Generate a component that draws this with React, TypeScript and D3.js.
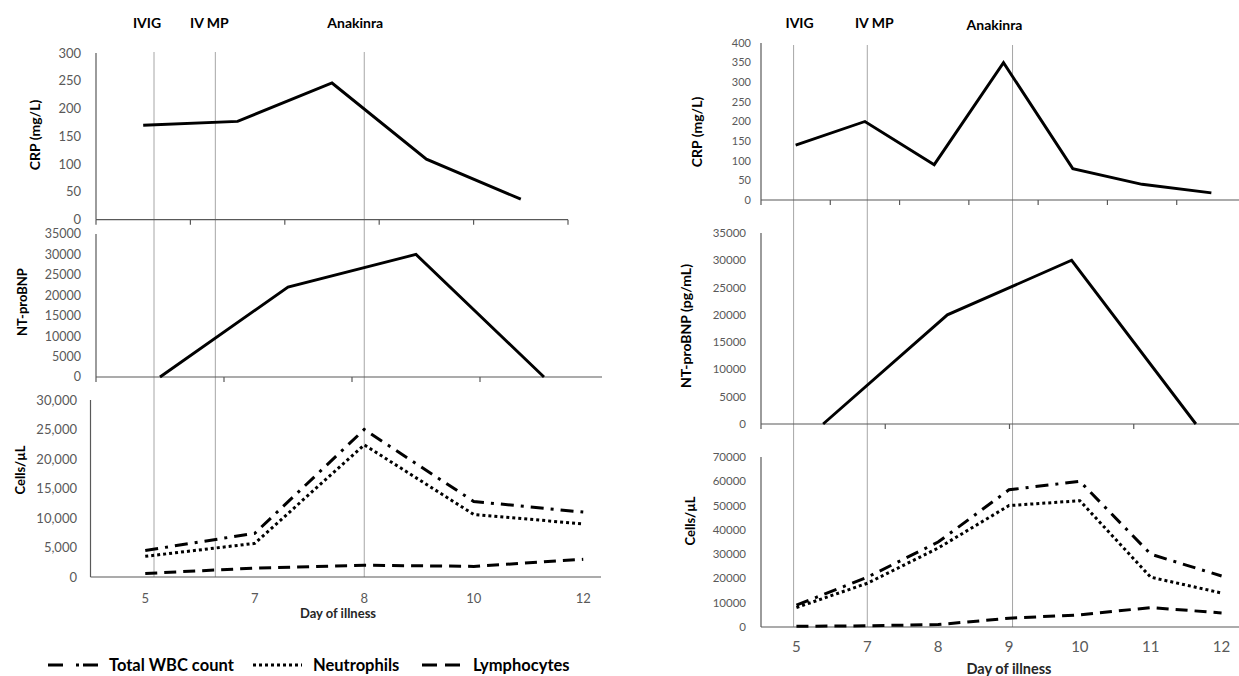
import React from "react";
import * as d3 from "d3";

// ---- left patient ----
const leftDays = ["5", "7", "8", "10", "12"];
const leftCrp = [170, 177, 246, 109, 37];
const leftBnpSlots = ["b1", "b2", "b3", "b4"]; // unlabelled in the figure
const leftBnp = [0, 22000, 30000, 0];
const leftWbc = [4500, 7400, 25000, 12800, 11000];
const leftNeut = [3500, 5700, 22400, 10600, 9000];
const leftLymph = [600, 1500, 2000, 1800, 3000];
// treatment start, in day-index units of the bottom axis
const leftEventIdx = [0.08, 0.64, 2.0];

// ---- right patient ----
const rightDays = ["5", "7", "8", "9", "10", "11", "12"];
const rightCrp = [140, 200, 90, 350, 80, 40, 18];
const rightBnpSlots = ["b1", "b2", "b3", "b4"];
const rightBnp = [0, 20000, 30000, 0];
const rightWbc = [9000, 20500, 35000, 56500, 60000, 30000, 21000];
const rightNeut = [8000, 18000, 32500, 50000, 52000, 20500, 14000];
const rightLymph = [300, 500, 1000, 3600, 5000, 8000, 5800];
const rightEventIdx = [-0.04, 1.0, 3.05];

const events = ["IVIG", "IV MP", "Anakinra"];
const legendNames = ["Total WBC count", "Neutrophils", "Lymphocytes"];

const FONT = "Lato, 'Open Sans', sans-serif";
const GREY = "#595959";
const DASH_WBC = "13,7,3,7";
const DASH_NEUT = "3,3";
const DASH_LYM = "12,7";

type Series = { values: number[]; dash?: string };

function SubPlot(props: {
  cats: string[];
  series: Series[];
  x0: number;
  x1: number;
  lineEnd?: number;
  yTop: number;
  yBot: number;
  max: number;
  step: number;
  fmt: (n: number) => string;
  tickFont: number;
  tickRight: number;
  catTicks?: boolean;
  catLabels?: { y: number; size: number };
}) {
  const p = props;
  const x = d3.scaleBand<string>().domain(p.cats).range([p.x0, p.x1]);
  const y = d3.scaleLinear().domain([0, p.max]).range([p.yBot, p.yTop]);
  const cx = (c: string) => (x(c) as number) + x.bandwidth() / 2;
  const line = d3
    .line<number>()
    .x((_, i) => cx(p.cats[i]))
    .y((v) => y(v));
  const ticks = d3.range(0, p.max + p.step / 2, p.step);
  const end = p.lineEnd ?? p.x1;
  return (
    <g>
      <line x1={p.x0} x2={p.x0} y1={p.yTop} y2={p.yBot} stroke={GREY} strokeWidth={1.2} />
      <line x1={p.x0} x2={end} y1={p.yBot} y2={p.yBot} stroke={GREY} strokeWidth={1.2} />
      {p.catTicks &&
        [...p.cats.map((c) => x(c) as number), p.x1]
          .filter((t) => t <= end + 0.5)
          .map((t, i) => (
            <line key={i} x1={t} x2={t} y1={p.yBot} y2={p.yBot + 5} stroke={GREY} strokeWidth={1.2} />
          ))}
      {ticks.map((t) => (
        <text
          key={t}
          x={p.tickRight}
          y={y(t)}
          dy="0.35em"
          textAnchor="end"
          fontSize={p.tickFont}
          fill={GREY}
          fontFamily={FONT}
        >
          {p.fmt(t)}
        </text>
      ))}
      {p.catLabels &&
        p.cats.map((c) => (
          <text
            key={c}
            x={cx(c)}
            y={p.catLabels!.y}
            dy="0.35em"
            textAnchor="middle"
            fontSize={p.catLabels!.size}
            fill={GREY}
            fontFamily={FONT}
          >
            {c}
          </text>
        ))}
      {p.series.map((s, i) => (
        <path
          key={i}
          d={line(s.values) as string}
          fill="none"
          stroke="#000"
          strokeWidth={s.dash ? 3 : 2.9}
          strokeDasharray={s.dash}
          strokeLinejoin="miter"
        />
      ))}
    </g>
  );
}

function YTitle({ x, y, text, size }: { x: number; y: number; text: string; size: number }) {
  return (
    <text
      transform={`translate(${x},${y}) rotate(-90)`}
      dy="0.35em"
      textAnchor="middle"
      fontSize={size}
      fontWeight="bold"
      fontFamily={FONT}
      fill="#000"
    >
      {text}
    </text>
  );
}

function Events(props: {
  days: string[];
  idx: number[];
  x0: number;
  x1: number;
  yTop: number;
  yBot: number;
  labelDx: number[];
  labelY: number[];
}) {
  const band = d3.scaleBand<string>().domain(props.days).range([props.x0, props.x1]);
  const ex = d3
    .scaleLinear()
    .domain([0, 1])
    .range([
      (band(props.days[0]) as number) + band.bandwidth() / 2,
      (band(props.days[1]) as number) + band.bandwidth() / 2,
    ]);
  return (
    <g>
      {props.idx.map((v, i) => (
        <g key={events[i]}>
          <line x1={ex(v)} x2={ex(v)} y1={props.yTop} y2={props.yBot} stroke="#a6a6a6" strokeWidth={1} />
          <text
            x={ex(v) + props.labelDx[i]}
            y={props.labelY[i]}
            textAnchor="middle"
            fontSize={14}
            fontWeight="bold"
            fontFamily={FONT}
          >
            {events[i]}
          </text>
        </g>
      ))}
    </g>
  );
}

export default function App() {
  const comma = d3.format(",");
  const plain = d3.format("d");
  const legendDash = ["15,13,3,4,15", DASH_NEUT, "15,8,15"];
  const legendPos = [
    { x: 48, w: 50, tx: 109 },
    { x: 253, w: 49, tx: 313 },
    { x: 422, w: 38, tx: 473 },
  ];
  return (
    <svg
      width={1239}
      height={676}
      style={{ position: "absolute", left: 0, top: 0, background: "#fff" }}
    >
      <rect width={1239} height={676} fill="#fff" />

      {/* ---------- left panel ---------- */}
      <Events
        days={leftDays}
        idx={leftEventIdx}
        x0={90.5}
        x1={638}
        yTop={52}
        yBot={577}
        labelDx={[-7, -6, -9]}
        labelY={[28, 28, 28]}
      />
      <SubPlot
        cats={leftDays}
        series={[{ values: leftCrp }]}
        x0={96}
        x1={568}
        yTop={53}
        yBot={219.7}
        max={300}
        step={50}
        fmt={plain}
        tickFont={13}
        tickRight={81}
        catTicks
      />
      <YTitle x={35} y={135} text="CRP (mg/L)" size={14} />
      <SubPlot
        cats={leftBnpSlots}
        series={[{ values: leftBnp }]}
        x0={96}
        x1={608}
        lineEnd={602}
        yTop={234}
        yBot={377}
        max={35000}
        step={5000}
        fmt={plain}
        tickFont={12.5}
        tickRight={81}
        catTicks
      />
      <YTitle x={22} y={302} text="NT-proBNP" size={13} />
      <SubPlot
        cats={leftDays}
        series={[
          { values: leftWbc, dash: DASH_WBC },
          { values: leftNeut, dash: DASH_NEUT },
          { values: leftLymph, dash: DASH_LYM },
        ]}
        x0={90.5}
        x1={638}
        lineEnd={601}
        yTop={400}
        yBot={577}
        max={30000}
        step={5000}
        fmt={comma}
        tickFont={13}
        tickRight={77}
        catLabels={{ y: 598, size: 13 }}
      />
      <YTitle x={20} y={470} text="Cells/µL" size={13} />
      <text x={338} y={618} textAnchor="middle" fontSize={13} fontWeight="bold" fontFamily={FONT} fill="#262626">
        Day of illness
      </text>

      {legendNames.map((n, i) => (
        <g key={n}>
          <line
            x1={legendPos[i].x}
            x2={legendPos[i].x + legendPos[i].w}
            y1={665}
            y2={665}
            stroke="#000"
            strokeWidth={3.2}
            strokeDasharray={legendDash[i]}
          />
          <text x={legendPos[i].tx} y={665} dy="0.35em" fontSize={16.5} fontWeight="bold" fontFamily={FONT}>
            {n}
          </text>
        </g>
      ))}

      {/* ---------- right panel ---------- */}
      <Events
        days={rightDays}
        idx={rightEventIdx}
        x0={761}
        x1={1257}
        yTop={45}
        yBot={627}
        labelDx={[6, 7, -18]}
        labelY={[28, 28, 30]}
      />
      <SubPlot
        cats={rightDays}
        series={[{ values: rightCrp }]}
        x0={761}
        x1={1246}
        lineEnd={1239}
        yTop={43}
        yBot={200}
        max={400}
        step={50}
        fmt={plain}
        tickFont={11}
        tickRight={751}
        catTicks
      />
      <YTitle x={697} y={132} text="CRP (mg/L)" size={14} />
      <SubPlot
        cats={rightBnpSlots}
        series={[{ values: rightBnp }]}
        x0={761}
        x1={1258}
        lineEnd={1239}
        yTop={233}
        yBot={424}
        max={35000}
        step={5000}
        fmt={plain}
        tickFont={11.5}
        tickRight={746}
        catTicks
      />
      <YTitle x={686} y={326} text="NT-proBNP  (pg/mL)" size={14} />
      <SubPlot
        cats={rightDays}
        series={[
          { values: rightWbc, dash: DASH_WBC },
          { values: rightNeut, dash: DASH_NEUT },
          { values: rightLymph, dash: DASH_LYM },
        ]}
        x0={761}
        x1={1257}
        lineEnd={1239}
        yTop={457}
        yBot={627}
        max={70000}
        step={10000}
        fmt={plain}
        tickFont={11.5}
        tickRight={746}
        catLabels={{ y: 647, size: 15 }}
      />
      <YTitle x={690} y={521} text="Cells/µL" size={13} />
      <text x={1009} y={674} textAnchor="middle" fontSize={14.5} fontWeight="bold" fontFamily={FONT} fill="#262626">
        Day of illness
      </text>
    </svg>
  );
}
